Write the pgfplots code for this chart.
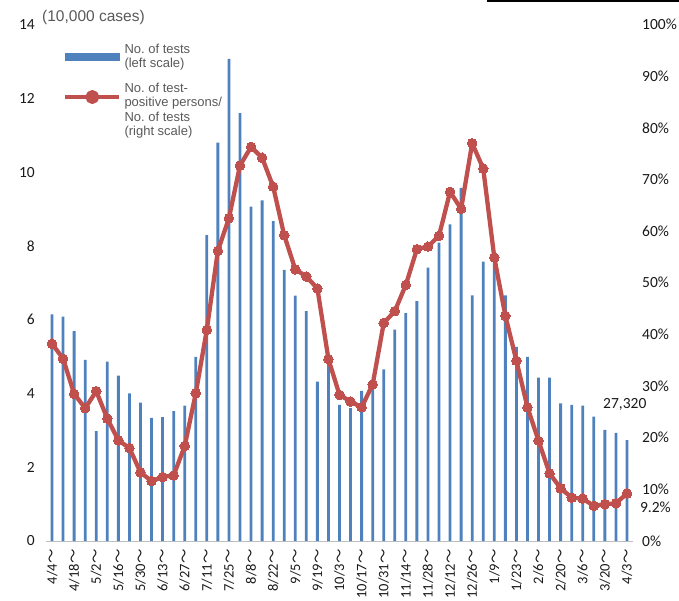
\documentclass[border=0pt]{standalone}
\usepackage{fontspec}
\setmainfont{Carlito}
\newfontfamily\arial{Liberation Sans}
\newfontfamily\cjk{Noto Sans CJK JP}
\usepackage{pgfplots}
\usepackage{pgfplotstable}
\pgfplotsset{compat=1.18}
\frenchspacing
\definecolor{barblue}{HTML}{4F81BD}
\definecolor{linered}{HTML}{C0504D}
\definecolor{txtgray}{HTML}{595959}
\definecolor{axgray}{HTML}{BFBFBF}
\definecolor{ticktxt}{HTML}{1A1A1A}

\pgfplotstableread{
i tests rate
0 6.14 38.2
1 6.08 35.3
2 5.69 28.5
3 4.91 25.7
4 2.98 29.0
5 4.86 23.7
6 4.48 19.5
7 4.00 18.0
8 3.75 13.3
9 3.34 11.6
10 3.36 12.4
11 3.52 12.7
12 3.67 18.4
13 4.99 28.6
14 8.29 40.9
15 10.80 56.2
16 13.07 62.5
17 11.60 72.7
18 9.06 76.3
19 9.23 74.2
20 8.67 68.6
21 7.35 59.2
22 6.65 52.6
23 6.23 51.2
24 4.32 48.9
25 4.80 35.2
26 3.69 28.3
27 3.60 27.0
28 4.07 25.9
29 4.20 30.3
30 4.65 42.2
31 5.73 44.5
32 6.18 49.6
33 6.50 56.5
34 7.41 57.0
35 8.09 59.1
36 8.58 67.6
37 9.57 64.3
38 6.66 77.0
39 7.57 72.1
40 7.60 54.9
41 6.66 43.6
42 5.26 34.9
43 4.99 25.9
44 4.43 19.4
45 4.43 13.1
46 3.73 10.2
47 3.69 8.4
48 3.67 8.2
49 3.37 6.8
50 3.01 7.1
51 2.93 7.3
52 2.732 9.2
}\datatable

\newcommand{\tl}{{\cjk ～}}

\begin{document}
\begin{tikzpicture}
\begin{axis}[
  at={(0pt,0pt)}, anchor=south west,
  scale only axis, width=586pt, height=516.5pt,
  xmin=-0.5, xmax=52.5, ymin=0, ymax=14,
  axis x line*=bottom, axis y line*=left,
  x axis line style={axgray, line width=1pt, -},
  y axis line style={draw=none},
  major tick length=0pt,
  ytick={0,2,...,14},
  xtick={0,2,...,52},
  xticklabels={4/4\tl,4/18\tl,5/2\tl,5/16\tl,5/30\tl,6/13\tl,6/27\tl,7/11\tl,7/25\tl,8/8\tl,8/22\tl,9/5\tl,9/19\tl,10/3\tl,10/17\tl,10/31\tl,11/14\tl,11/28\tl,12/12\tl,12/26\tl,1/9\tl,1/23\tl,2/6\tl,2/20\tl,3/6\tl,3/20\tl,4/3\tl},
  x tick label style={rotate=90, anchor=east, inner sep=0pt, inner xsep=8pt, font=\fontsize{14.5}{14.5}\selectfont, text=ticktxt},
  y tick label style={anchor=east, inner sep=0pt, inner xsep=11.5pt, font=\fontsize{15.5}{15.5}\selectfont, text=ticktxt},
  /pgf/number format/assume math mode=true,
  ybar, bar width=2.8pt,
  clip=false,
]
\addplot[fill=barblue, draw=none, bar shift=0pt] table[x=i,y=tests]{\datatable};
\node[font=\fontsize{15.5}{15.5}\selectfont, text=ticktxt] at (axis cs:51.8,3.69) {27,320};
\node[anchor=west, font=\arial\fontsize{15.5}{15.5}\selectfont, text=txtgray, inner sep=0pt] at (rel axis cs:0,1) [xshift=-4.5pt, yshift=7.5pt] {(10,000 cases)};
\end{axis}
\begin{axis}[
  at={(0pt,0pt)}, anchor=south west,
  scale only axis, width=586pt, height=516.5pt,
  xmin=-0.5, xmax=52.5, ymin=0, ymax=100,
  axis x line=none, axis y line*=right,
  y axis line style={draw=none},
  major tick length=0pt,
  ytick={0,10,...,100},
  yticklabel={\pgfmathprintnumber{\tick}\%},
  y tick label style={anchor=west, inner sep=0pt, inner xsep=9.5pt, font=\fontsize{15.5}{15.5}\selectfont, text=ticktxt},
  /pgf/number format/assume math mode=true,
  clip=false,
  legend cell align=left,
  legend style={at={(0,1)}, anchor=north west, xshift=16.5pt, yshift=-17.5pt,
    draw=none, fill=none, inner sep=0pt, column sep=1pt, row sep=9.7pt,
    font=\arial\fontsize{13}{14.3}\selectfont, text=txtgray,
    cells={align=left, inner sep=0pt}},
]
\addlegendimage{legend image code/.code={\fill[barblue] (0pt,-3.8pt) rectangle (54pt,3.8pt);}}
\addlegendentry{No. of tests\\(left scale)}
\addplot[linered, line width=4.3pt, line join=round, mark=*, mark size=4.8pt,
  mark options={fill=linered, draw=linered, line width=0pt},
  legend image code/.code={\draw[linered, line width=4.3pt] (0pt,13pt)--(54pt,13pt); \fill[linered] (27pt,13pt) circle (4.8pt);}]
  table[x=i,y=rate]{\datatable};
\addlegendentry{No. of test-\\positive persons/\\No. of tests\\(right scale)}
\node[font=\fontsize{15.5}{15.5}\selectfont, text=ticktxt] at (axis cs:54.57,6.6) {9.2\%};
\end{axis}
\draw[black, line width=2.5pt] (440.5pt,539.8pt) -- (632.5pt,539.8pt);
\pgfresetboundingbox
\useasboundingbox (-46.5pt,-59pt) rectangle (632.5pt,541pt);
\end{tikzpicture}
\end{document}
